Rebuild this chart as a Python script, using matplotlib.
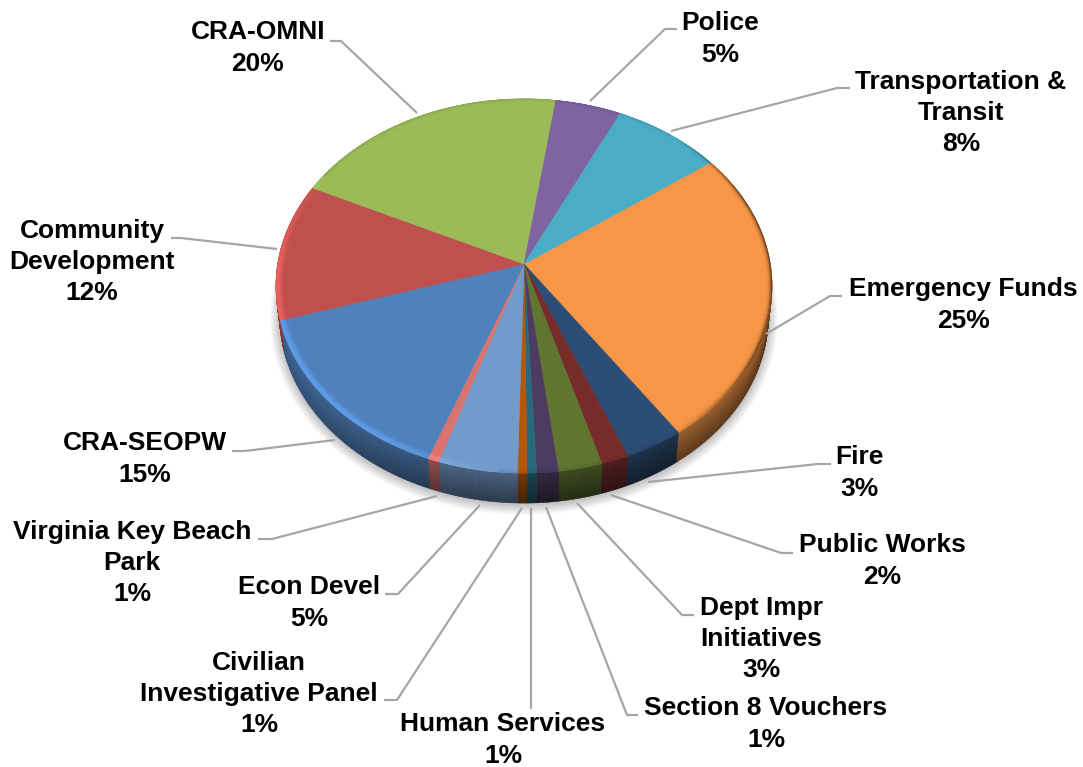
import numpy as np
import matplotlib
matplotlib.use('Agg')
import matplotlib.pyplot as plt
from matplotlib.collections import PolyCollection
from matplotlib.colors import to_rgb

plt.rcParams['font.family'] = ['Liberation Sans', 'DejaVu Sans']

# budget shares, clockwise from the orange slice
names = ['Emergency Funds', 'Fire', 'Public Works', 'Dept Impr\nInitiatives', 'Section 8 Vouchers',
         'Human Services', 'Civilian\nInvestigative Panel', 'Econ Devel', 'Virginia Key Beach\nPark',
         'CRA-SEOPW', 'Community\nDevelopment', 'CRA-OMNI', 'Police', 'Transportation &\nTransit']
shares = [25.45, 3.45, 1.6, 2.55, 1.25, 0.55, 0.55, 4.6, 0.67, 14.6, 11.9, 20.2, 4.8, 7.9]
colors = ['#f79646', '#2c4d75', '#772c2a', '#5f7530', '#4d3b62', '#276a7c', '#b65708',
          '#729aca', '#d9736f', '#4f81bd', '#c0504d', '#9bbb59', '#8064a2', '#4bacc6']

# text block centres
label_xy = [(963, 305), (859, 473), (882, 561), (761, 639), (766, 724), (503, 740), (259, 694),
            (309, 603), (132, 563), (145, 459), (92, 262), (258, 48), (720, 39), (961, 113)]
# leader lines, pie end first
leaders = [[(766, 334), (830, 296), (842, 296)], [(648, 482), (818, 464), (831, 464)],
           [(611, 495), (781, 553), (793, 553)], [(577, 503), (682, 615), (694, 615)],
           [(546, 507), (627, 715), (638, 715)], [(531, 508), (531, 709)],
           [(522, 508), (397, 700), (384, 700)], [(480, 505), (398, 594), (385, 594)],
           [(437, 496), (272, 539), (258, 539)], [(335, 440), (245, 451), (232, 451)],
           [(277, 249), (181, 238), (171, 238)], [(417, 113), (341, 41), (330, 41)],
           [(590, 101), (665, 29), (677, 29)], [(671, 131), (837, 88), (850, 88)]]

CX, CY = 524, 264
A, B, K = 246.3, 184.5, 0.1176  # ellipse with perspective
DEPTH = 30
START = 54


def project(theta, r=1.0, depth=0.0):
    # theta in degrees, clockwise from the back of the pie
    t = np.radians(theta)
    u, v = r * np.sin(t), r * np.cos(t)
    w = 1 + K * v
    shrink = 1 - 0.015 * depth / DEPTH
    return np.column_stack([CX + shrink * A * u / w, CY - B * v / w + depth])


def shade(col, f):
    return tuple(np.clip(np.array(to_rgb(col)) * f, 0, 1))


def rim_light(theta):
    th = theta % 360
    if 185 <= th <= 300:
        return 1 + 0.22 * min(1, (th - 185) / 25) * min(1, (300 - th) / 30)
    if 40 <= th <= 150:
        return 1 - 0.6 * min(1, (th - 40) / 25) * min(1, (150 - th) / 30)
    return 0.9


def wall_light(theta, frac):
    # frac runs 0 at the top of the wall to 1 at the bottom
    s = np.clip(((theta % 360) - 190) / 70, 0, 1)
    top = 0.62 + 0.24 * s
    bottom = 0.36 + 0.36 * s
    return top + (bottom - top) * frac


fig = plt.figure(figsize=(10.83, 7.67), dpi=100)
ax = fig.add_axes([0, 0, 1, 1])
ax.set_xlim(0, 1083)
ax.set_ylim(767, 0)
ax.axis('off')

angles = START + np.cumsum([0] + shares) / sum(shares) * 360

# soft shadow under the body
ring = np.linspace(0, 360, 200)
for grow in np.linspace(12, 1, 12):
    pts = project(ring, depth=DEPTH + 1)
    pts[:, 0] = CX + (pts[:, 0] - CX) * (1 + grow / 300)
    pts[:, 1] = CY + 32 + (pts[:, 1] - CY - 32) * (1 + grow / 230)
    ax.fill(pts[:, 0], pts[:, 1], color='black', alpha=0.02, lw=0, zorder=1)

# side wall, built up in thin layers so it darkens downward
levels = np.linspace(0, DEPTH, 16)
for i in range(len(shares)):
    steps = np.arange(angles[i], angles[i + 1], 1.0)
    steps = np.append(steps, angles[i + 1])
    polys, cols = [], []
    for d0, d1 in zip(levels[:-1], levels[1:]):
        p0, p1 = project(steps, depth=d0), project(steps, depth=d1)
        for j in range(len(steps) - 1):
            polys.append([p0[j], p0[j + 1], p1[j + 1], p1[j]])
            cols.append(shade(colors[i], wall_light(steps[j], d0 / DEPTH)))
    ax.add_collection(PolyCollection(polys, facecolors=cols, edgecolors=cols, linewidths=0.4, zorder=2))

# top face
for i in range(len(shares)):
    steps = np.append(np.arange(angles[i], angles[i + 1], 1.0), angles[i + 1])
    pts = np.vstack([[CX, CY], project(steps)])
    ax.fill(pts[:, 0], pts[:, 1], facecolor=colors[i], edgecolor=colors[i], lw=0.4, zorder=3)

# bevel along the rim of the top face, the dark side narrower than the lit side
radii = np.linspace(1.0, 0.972, 8)
for i in range(len(shares)):
    steps = np.append(np.arange(angles[i], angles[i + 1], 1.0), angles[i + 1])
    polys, cols = [], []
    for n, (r0, r1) in enumerate(zip(radii[:-1], radii[1:])):
        pos = 1 - n / (len(radii) - 1)
        p0, p1 = project(steps, r=r0), project(steps, r=r1)
        for j in range(len(steps) - 1):
            light = rim_light(steps[j])
            fade = min(1, 1.6 * pos) if light > 1 else pos ** 3
            polys.append([p0[j], p0[j + 1], p1[j + 1], p1[j]])
            cols.append(shade(colors[i], 1 + (light - 1) * fade))
    ax.add_collection(PolyCollection(polys, facecolors=cols, edgecolors=cols, linewidths=0.3, zorder=4))

# leaders and labels
for pts in leaders:
    xs, ys = zip(*pts)
    ax.plot(xs, ys, color='#a6a6a6', lw=1.6, solid_capstyle='butt', zorder=5)

for name, share, (x, y) in zip(names, shares, label_xy):
    ax.text(x, y, '%s\n%d%%' % (name, round(share)), ha='center', va='center', fontsize=19,
            fontweight='bold', color='black', linespacing=1.38, zorder=6)

fig.savefig('out.png', dpi=100)
